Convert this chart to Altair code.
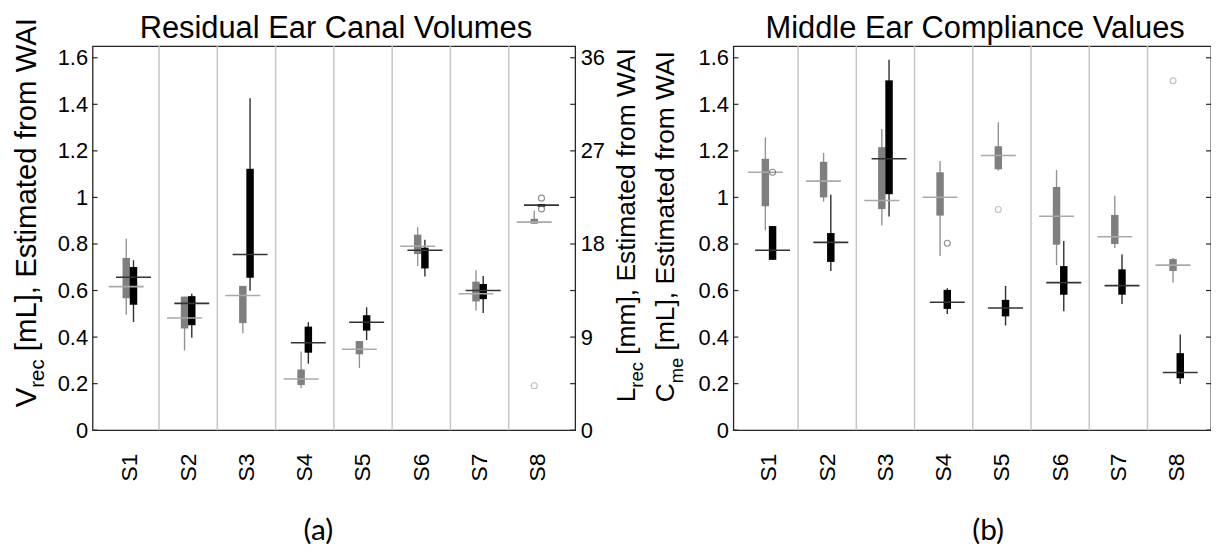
import json
import altair as alt
import pandas as pd

# ---------------- data ----------------
subjects = ["S1", "S2", "S3", "S4", "S5", "S6", "S7", "S8"]

# (a) residual ear canal volume V_rec [mL]
a_gray_lo = [0.496, 0.343, 0.416, 0.180, 0.267, 0.705, 0.514, 0.887]
a_gray_q1 = [0.567, 0.437, 0.460, 0.194, 0.326, 0.757, 0.553, 0.887]
a_gray_med = [0.617, 0.482, 0.579, 0.220, 0.348, 0.790, 0.586, 0.894]
a_gray_q3 = [0.740, 0.574, 0.620, 0.261, 0.383, 0.840, 0.638, 0.908]
a_gray_hi = [0.823, 0.574, 0.620, 0.338, 0.383, 0.872, 0.687, 0.943]

a_black_lo = [0.465, 0.397, 0.599, 0.286, 0.387, 0.660, 0.504, 0.960]
a_black_q1 = [0.539, 0.451, 0.655, 0.333, 0.428, 0.695, 0.563, 0.960]
a_black_med = [0.657, 0.545, 0.755, 0.376, 0.464, 0.773, 0.600, 0.967]
a_black_q3 = [0.701, 0.576, 1.123, 0.445, 0.494, 0.784, 0.628, 0.972]
a_black_hi = [0.730, 0.586, 1.426, 0.464, 0.528, 0.818, 0.662, 0.972]

a_out_subject = ["S8", "S8", "S8"]
a_out_series = ["gray", "black", "black"]
a_out_value = [0.191, 0.997, 0.950]

# (b) middle ear compliance C_me [mL]
b_gray_lo = [0.858, 0.982, 0.879, 0.748, 1.115, 0.709, 0.783, 0.635]
b_gray_q1 = [0.962, 1.000, 0.950, 0.922, 1.121, 0.797, 0.800, 0.684]
b_gray_med = [1.108, 1.070, 0.987, 1.001, 1.180, 0.919, 0.831, 0.709]
b_gray_q3 = [1.166, 1.153, 1.216, 1.108, 1.220, 1.045, 0.925, 0.735]
b_gray_hi = [1.258, 1.191, 1.294, 1.156, 1.323, 1.118, 1.007, 0.740]

b_black_lo = [0.732, 0.684, 0.918, 0.499, 0.450, 0.511, 0.542, 0.199]
b_black_q1 = [0.732, 0.723, 1.014, 0.521, 0.489, 0.582, 0.582, 0.223]
b_black_med = [0.773, 0.807, 1.166, 0.550, 0.525, 0.634, 0.621, 0.248]
b_black_q3 = [0.877, 0.847, 1.503, 0.603, 0.560, 0.705, 0.691, 0.331]
b_black_hi = [0.877, 1.011, 1.591, 0.610, 0.620, 0.813, 0.755, 0.411]

b_out_subject = ["S1", "S4", "S5", "S8"]
b_out_series = ["black", "black", "gray", "gray"]
b_out_value = [1.108, 0.803, 0.948, 1.501]

y_ticks = [0, 0.2, 0.4, 0.6, 0.8, 1.0, 1.2, 1.4, 1.6]
mm_ticks = [0, 9, 18, 27, 36]
mm_per_ml = 22.5

title_a = "Residual Ear Canal Volumes"
title_b = "Middle Ear Compliance Values"
ylab_a = ["V", "rec", "[mL], Estimated from WAI"]
ylab_a2 = ["L", "rec", "[mm], Estimated from WAI"]
ylab_b = ["C", "me", "[mL], Estimated from WAI"]
caption_a = "(a)"
caption_b = "(b)"

# ---------------- styling ----------------
FONT = "Arial, Liberation Sans, sans-serif"
CAP_FONT = "Lato"
W_A, W_B, H = 485, 480, 386
XDOM_A = [0.36, 8.64]
XDOM_B = [0.389, 8.59]
YDOM = [0, 1.65]
OFF, BOX_HALF, MED_HALF = 0.062, 0.064, 0.30
STYLE = {
    "gray": dict(box="#7f7f7f", whisk="#939393", med="#a9a9a9", out="#a3a3a3"),
    "black": dict(box="#000000", whisk="#2e2e2e", med="#333333", out="#5e5e5e"),
}


def box_df(lo, q1, med, q3, hi):
    return pd.DataFrame({"idx": list(range(1, len(subjects) + 1)), "subject": subjects,
                         "lo": lo, "q1": q1, "med": med, "q3": q3, "hi": hi})


def text_layer(txt, x, y, size, angle=0, align="center", font=FONT):
    return alt.Chart(pd.DataFrame({"t": [txt]})).mark_text(
        angle=angle, align=align, baseline="alphabetic", fontSize=size, font=font, color="#000"
    ).encode(text="t:N", x=alt.value(x), y=alt.value(y))


def panel(W, xdom, boxes, outs, right_axis, titles):
    xs = alt.Scale(domain=xdom, nice=False, zero=False)
    ys = alt.Scale(domain=YDOM, nice=False, zero=False)

    def X(f, axis=None):
        return alt.X(f, type="quantitative", scale=xs, axis=axis)

    def Y(f, axis=None):
        return alt.Y(f, type="quantitative", scale=ys, axis=axis)

    xaxis = alt.Axis(values=list(range(1, len(subjects) + 1)),
                     labelExpr=f"{json.dumps(subjects)}[datum.value - 1]",
                     labelAngle=270, labelAlign="right", labelBaseline="middle",
                     labelFontSize=23, labelFont=FONT, labelColor="#000", labelPadding=23,
                     ticks=False, tickSize=0, domain=False, grid=False, title=None,
                     labelOverlap=False, labelFlush=False)
    yaxis = alt.Axis(orient="left", values=y_ticks, format=".1~f", ticks=False, tickSize=0,
                     domain=False, grid=False, title=None, labelFontSize=22, labelFont=FONT,
                     labelColor="#000", labelPadding=5, labelOverlap=False, labelFlush=False)
    raxis = None
    if right_axis:
        raxis = alt.Axis(orient="right", values=[m / mm_per_ml for m in mm_ticks],
                         labelExpr=f"'' + round(datum.value * {mm_per_ml})",
                         ticks=False, tickSize=0, domain=False, grid=False, title=None,
                         labelFontSize=22, labelFont=FONT, labelColor="#000", labelPadding=5,
                         labelOverlap=False, labelFlush=False)

    layers = []
    sep = pd.DataFrame({"b": [i + 0.5 for i in range(1, len(subjects))]})
    layers.append(alt.Chart(sep).mark_rule(color="#c6c6c6", strokeWidth=1.5).encode(
        x=X("b"), y=alt.value(0), y2=alt.value(H)))

    for name in ["gray", "black"]:
        df = boxes[name]
        off = -OFF if name == "gray" else OFF
        st = STYLE[name]
        base = alt.Chart(df).transform_calculate(
            xc=f"datum.idx + ({off})",
            bx0=f"datum.idx + ({off}) - {BOX_HALF}",
            bx1=f"datum.idx + ({off}) + {BOX_HALF}",
        )
        if name == "gray":
            enc_x, enc_y = X("xc", xaxis), Y("lo", yaxis)
        else:
            enc_x, enc_y = X("xc"), Y("lo", raxis)
        layers.append(base.mark_rule(color=st["whisk"], strokeWidth=1.4).encode(
            x=enc_x, y=enc_y, y2="hi"))
        layers.append(base.mark_rect(color=st["box"]).encode(
            x=X("bx0"), x2="bx1", y=Y("q1"), y2="q3"))

    for name in ["gray", "black"]:
        df = boxes[name]
        off = -OFF if name == "gray" else OFF
        st = STYLE[name]
        base = alt.Chart(df).transform_calculate(
            m0=f"datum.idx + ({off}) - {MED_HALF}",
            m1=f"datum.idx + ({off}) + {MED_HALF}",
        )
        layers.append(base.mark_rule(color=st["med"], strokeWidth=1.6).encode(
            x=X("m0"), x2="m1", y=Y("med")))

    odf = pd.DataFrame(outs)
    for name in ["gray", "black"]:
        off = -OFF if name == "gray" else OFF
        sub = odf[odf["series"] == name]
        if len(sub) == 0:
            continue
        layers.append(alt.Chart(sub).transform_calculate(
            xc=f"indexof({json.dumps(subjects)}, datum.subject) + 1 + ({off})"
        ).mark_point(shape="circle", filled=False, size=36, strokeWidth=1.1,
                     color=STYLE[name]["out"]).encode(x=X("xc"), y=Y("value")))

    # inward ticks on both vertical sides
    tdf = pd.DataFrame({"v": y_ticks})
    layers.append(alt.Chart(tdf).mark_rule(color="#262626", strokeWidth=1.2).encode(
        x=alt.value(0), x2=alt.value(5), y=Y("v")))
    layers.append(alt.Chart(tdf).mark_rule(color="#262626", strokeWidth=1.2).encode(
        x=alt.value(W - 5), x2=alt.value(W), y=Y("v")))

    layers.extend(titles)
    return alt.layer(*layers).resolve_axis(x="independent", y="independent").properties(
        width=W, height=H)


boxes_a = {"gray": box_df(a_gray_lo, a_gray_q1, a_gray_med, a_gray_q3, a_gray_hi),
           "black": box_df(a_black_lo, a_black_q1, a_black_med, a_black_q3, a_black_hi)}
boxes_b = {"gray": box_df(b_gray_lo, b_gray_q1, b_gray_med, b_gray_q3, b_gray_hi),
           "black": box_df(b_black_lo, b_black_q1, b_black_med, b_black_q3, b_black_hi)}
outs_a = {"subject": a_out_subject, "series": a_out_series, "value": a_out_value}
outs_b = {"subject": b_out_subject, "series": b_out_series, "value": b_out_value}

titles_a = [
    text_layer(title_a, W_A / 2 + 2, -8, 31),
    text_layer(ylab_a[0], -57, 363, 29.5, angle=270, align="left"),
    text_layer(ylab_a[1], -49, 343.3, 20.5, angle=270, align="left"),
    text_layer(ylab_a[2], -57, 306.6, 29.5, angle=270, align="left"),
    text_layer(ylab_a2[0], W_A + 60, 358, 26.5, angle=270, align="left"),
    text_layer(ylab_a2[1], W_A + 68, 343.3, 18.5, angle=270, align="left"),
    text_layer(ylab_a2[2], W_A + 60, 310.2, 26.5, angle=270, align="left"),
    text_layer(caption_a, 227, 496, 30, font=CAP_FONT),
]
titles_b = [
    text_layer(title_b, 243, -8, 31),
    text_layer(ylab_b[0], -60, 358, 26.5, angle=270, align="left"),
    text_layer(ylab_b[1], -51, 338.9, 18.5, angle=270, align="left"),
    text_layer(ylab_b[2], -60, 305.8, 26.5, angle=270, align="left"),
    text_layer(caption_b, 256, 496, 30, font=CAP_FONT),
]

pa = panel(W_A, XDOM_A, boxes_a, outs_a, True, titles_a)
pb = panel(W_B, XDOM_B, boxes_b, outs_b, False, titles_b)

chart = alt.hconcat(pa, pb, spacing=159, bounds="flush").properties(
    autosize=alt.AutoSizeParams(type="none"),
    padding={"left": 85, "top": 36, "right": 1124, "bottom": 506},
).configure_view(stroke="#262626", strokeWidth=1.3)

chart.save("out.html", embed_options={"renderer": "svg", "actions": False})
